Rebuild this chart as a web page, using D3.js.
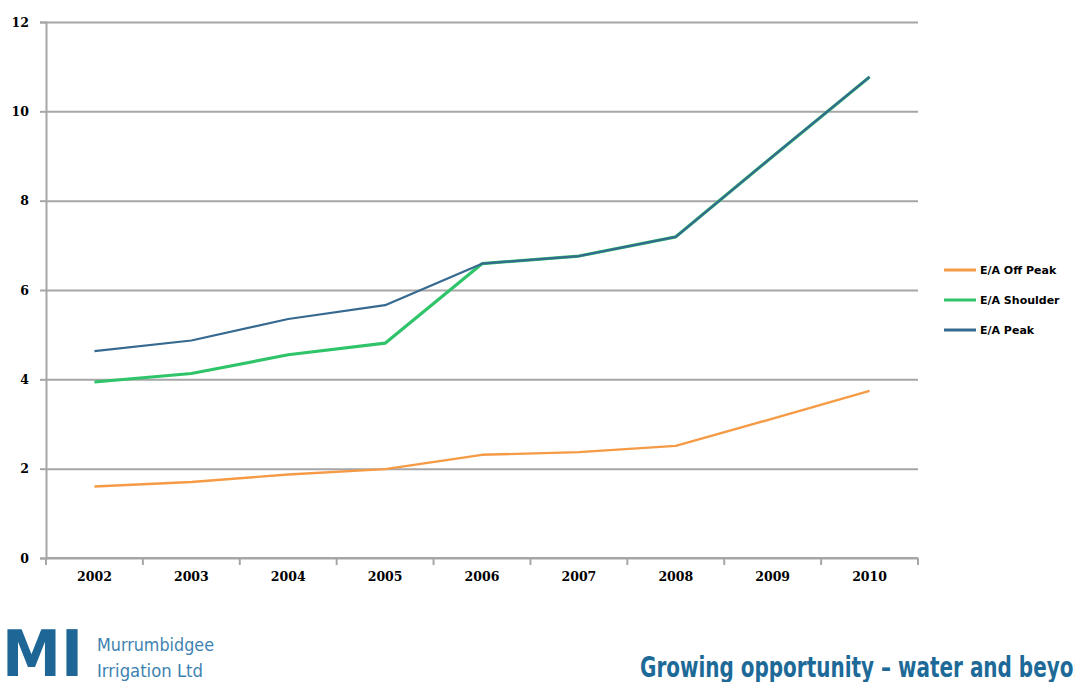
<!DOCTYPE html>
<html>
<head>
<meta charset="utf-8">
<script src="https://cdn.jsdelivr.net/npm/d3@7"></script>
<style>
  html, body { margin: 0; padding: 0; background: #fff; }
  svg { display: block; }
</style>
</head>
<body>
<svg id="chart" width="1075" height="682"></svg>
<script>
// ---- data ----
const years = ["2002", "2003", "2004", "2005", "2006", "2007", "2008", "2009", "2010"];
const offPeak  = [1.60, 1.70, 1.87, 1.99, 2.31, 2.37, 2.51, 3.12, 3.74];
const shoulder = [3.94, 4.13, 4.55, 4.81, 6.59, 6.76, 7.19, 8.99, 10.77];
const peak     = [4.63, 4.87, 5.35, 5.66, 6.59, 6.76, 7.19, 8.99, 10.77];
const seriesNames = ["E/A Off Peak", "E/A Shoulder", "E/A Peak"];
const yTicks = [0, 2, 4, 6, 8, 10, 12];

const series = [
  { name: seriesNames[0], values: offPeak,  color: "#f59a45", width: 2.4 },
  { name: seriesNames[1], values: shoulder, color: "#2fc46a", width: 3.2 },
  { name: seriesNames[2], values: peak,     color: "#36698f", width: 2.2 }
];

const svg = d3.select("#chart");
const plotL = 46, plotR = 918, plotT = 22, plotB = 558;

const x = d3.scaleBand().domain(years).range([plotL, plotR]).padding(0);
const y = d3.scaleLinear().domain([0, 12]).range([plotB, plotT]);

const labelFont = "'DejaVu Serif', serif";

// gridlines
svg.append("g")
  .attr("transform", `translate(${plotL},0)`)
  .call(d3.axisLeft(y).tickValues(yTicks).tickSize(-(plotR - plotL)).tickFormat(""))
  .call(g => g.select(".domain").remove())
  .call(g => g.selectAll("line").attr("stroke", "#a6a6a6").attr("stroke-width", 2));

// y axis (outer tick marks + labels)
svg.append("g")
  .attr("transform", `translate(${plotL},0)`)
  .call(d3.axisLeft(y).tickValues(yTicks).tickSize(6).tickPadding(11))
  .call(g => g.select(".domain").attr("stroke", "#a6a6a6").attr("stroke-width", 2))
  .call(g => g.selectAll("line").attr("stroke", "#a6a6a6").attr("stroke-width", 2))
  .call(g => g.selectAll("text")
    .attr("font-family", labelFont)
    .attr("font-weight", "bold")
    .attr("font-size", 12.5)
    .attr("fill", "#000"));

// x axis line
svg.append("line")
  .attr("x1", plotL).attr("x2", plotR)
  .attr("y1", y(0)).attr("y2", y(0))
  .attr("stroke", "#a6a6a6").attr("stroke-width", 2);

// x boundary ticks
const boundaries = years.map(d => x(d)).concat([x.range()[1]]);
svg.append("g").selectAll("line").data(boundaries).join("line")
  .attr("x1", d => d).attr("x2", d => d)
  .attr("y1", y(0)).attr("y2", y(0) + 7)
  .attr("stroke", "#a6a6a6").attr("stroke-width", 2);

// x labels
svg.append("g")
  .attr("transform", `translate(0,${y(0)})`)
  .call(d3.axisBottom(x).tickSize(0).tickPadding(14))
  .call(g => g.select(".domain").remove())
  .call(g => g.selectAll("text")
    .attr("font-family", labelFont)
    .attr("font-weight", "bold")
    .attr("font-size", 12.5)
    .attr("fill", "#000"));

// lines
const line = d3.line()
  .x((d, i) => x(years[i]) + x.bandwidth() / 2)
  .y(d => y(d));

svg.append("g").selectAll("path").data(series).join("path")
  .attr("d", d => line(d.values))
  .attr("fill", "none")
  .attr("stroke", d => d.color)
  .attr("stroke-width", d => d.width)
  .attr("stroke-linejoin", "round");

// legend
const legend = svg.append("g").attr("transform", "translate(944,270)");
const li = legend.selectAll("g").data(series).join("g")
  .attr("transform", (d, i) => `translate(0,${i * 30})`);
li.append("line")
  .attr("x1", 0).attr("x2", 32).attr("y1", 0).attr("y2", 0)
  .attr("stroke", d => d.color).attr("stroke-width", 3);
li.append("text")
  .attr("x", 36).attr("y", 4)
  .attr("font-family", "'DejaVu Sans', sans-serif")
  .attr("font-weight", "bold")
  .attr("font-size", 11)
  .attr("fill", "#000")
  .text(d => d.name);

// footer logo
svg.append("text")
  .attr("x", 2).attr("y", 676)
  .attr("font-family", "'DejaVu Sans', sans-serif")
  .attr("font-weight", "bold")
  .attr("font-size", 64)
  .attr("textLength", 81).attr("lengthAdjust", "spacingAndGlyphs")
  .attr("fill", "#1d6696")
  .text("MI");
svg.append("text")
  .attr("x", 97).attr("y", 651)
  .attr("font-family", "'DejaVu Sans Condensed', 'DejaVu Sans', sans-serif")
  .attr("font-size", 17)
  .attr("textLength", 117).attr("lengthAdjust", "spacingAndGlyphs")
  .attr("fill", "#3d82b0")
  .text("Murrumbidgee");
svg.append("text")
  .attr("x", 97).attr("y", 677)
  .attr("font-family", "'DejaVu Sans Condensed', 'DejaVu Sans', sans-serif")
  .attr("font-size", 17)
  .attr("textLength", 106).attr("lengthAdjust", "spacingAndGlyphs")
  .attr("fill", "#3d82b0")
  .text("Irrigation Ltd");
svg.append("text")
  .attr("x", 640).attr("y", 677)
  .attr("font-family", "'DejaVu Sans Condensed', 'DejaVu Sans', sans-serif")
  .attr("font-weight", "bold")
  .attr("font-size", 28)
  .attr("textLength", 462).attr("lengthAdjust", "spacingAndGlyphs")
  .attr("fill", "#1d6a98")
  .text("Growing opportunity – water and beyond");
</script>
</body>
</html>
